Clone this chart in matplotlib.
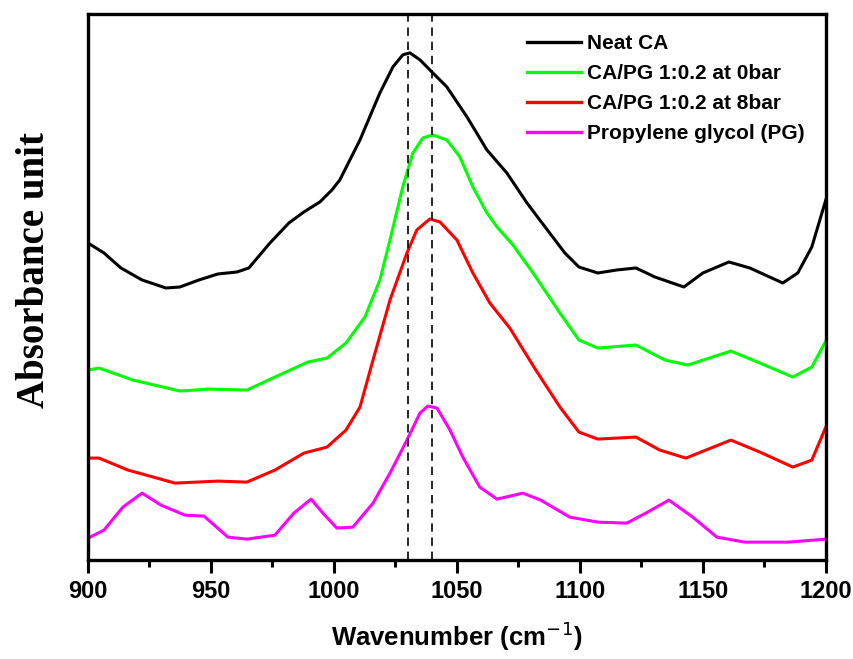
import numpy as np
import matplotlib
matplotlib.use("Agg")
from matplotlib import pyplot as plt
from matplotlib.ticker import MultipleLocator, NullLocator

# FTIR spectra (absorbance in arbitrary offset units)
wn_ca = [900.0, 906.5, 913.4, 922.0, 931.7, 937.4, 945.1, 952.8, 960.6, 965.4,
         974.0, 981.7, 987.8, 994.3, 999.2, 1002.4, 1010.6, 1018.7, 1024.0, 1028.0,
         1030.9, 1035.0, 1040.2, 1045.9, 1054.1, 1062.2, 1070.3, 1078.5, 1083.7, 1093.9,
         1099.6, 1107.3, 1115.0, 1122.8, 1130.5, 1142.3, 1150.0, 1160.6, 1169.1, 1182.5,
         1188.6, 1194.3, 1200.0]
ab_ca = [3.17, 3.07, 2.92, 2.80, 2.72, 2.73, 2.80, 2.86, 2.88, 2.92,
         3.17, 3.37, 3.48, 3.58, 3.70, 3.80, 4.20, 4.67, 4.93, 5.05,
         5.07, 5.00, 4.87, 4.73, 4.43, 4.10, 3.87, 3.57, 3.40, 3.07,
         2.93, 2.87, 2.90, 2.92, 2.83, 2.73, 2.87, 2.98, 2.92, 2.77,
         2.87, 3.13, 3.60]

wn_0bar = [900.0, 904.5, 918.3, 937.4, 949.2, 964.6, 976.0, 989.4, 997.2, 1004.9,
           1012.6, 1018.7, 1022.8, 1028.0, 1032.1, 1036.2, 1040.2, 1045.9, 1051.2, 1056.5,
           1062.2, 1066.3, 1072.8, 1082.1, 1091.9, 1099.6, 1107.3, 1122.8, 1134.6, 1143.9,
           1161.4, 1173.2, 1186.6, 1194.3, 1200.0]
ab_0bar = [1.90, 1.92, 1.80, 1.69, 1.71, 1.70, 1.83, 1.98, 2.02, 2.17,
           2.43, 2.80, 3.20, 3.73, 4.07, 4.22, 4.25, 4.20, 4.03, 3.73,
           3.47, 3.33, 3.15, 2.83, 2.47, 2.20, 2.12, 2.15, 2.00, 1.95,
           2.09, 1.97, 1.83, 1.93, 2.19]

wn_8bar = [900.0, 904.5, 916.3, 935.4, 952.8, 964.6, 976.0, 987.8, 997.2, 1004.9,
           1010.6, 1015.9, 1022.8, 1029.7, 1033.7, 1039.0, 1043.1, 1050.0, 1056.5, 1063.4,
           1071.5, 1082.1, 1091.9, 1099.6, 1107.3, 1122.8, 1132.5, 1143.1, 1161.4, 1173.2,
           1186.6, 1194.3, 1200.0]
ab_8bar = [1.02, 1.02, 0.90, 0.77, 0.79, 0.78, 0.90, 1.07, 1.13, 1.30,
           1.53, 2.00, 2.60, 3.07, 3.30, 3.41, 3.38, 3.20, 2.87, 2.57,
           2.32, 1.90, 1.53, 1.28, 1.21, 1.23, 1.10, 1.02, 1.20, 1.08,
           0.93, 1.00, 1.33]

wn_pg = [900.0, 906.5, 914.2, 922.0, 929.7, 939.4, 947.2, 956.9, 964.6, 976.0,
         983.7, 990.7, 995.5, 1001.2, 1007.7, 1015.9, 1022.8, 1029.7, 1035.0, 1038.2,
         1041.9, 1047.2, 1052.4, 1059.3, 1066.3, 1076.8, 1084.1, 1095.9, 1107.3, 1119.1,
         1126.8, 1136.2, 1145.9, 1155.7, 1167.1, 1184.6, 1200.0]
ab_pg = [0.22, 0.30, 0.53, 0.67, 0.55, 0.45, 0.44, 0.23, 0.21, 0.25,
         0.47, 0.61, 0.47, 0.32, 0.33, 0.57, 0.87, 1.20, 1.47, 1.54,
         1.52, 1.30, 1.03, 0.73, 0.61, 0.67, 0.60, 0.43, 0.38, 0.37,
         0.47, 0.60, 0.43, 0.23, 0.18, 0.18, 0.21]

labels = ["Neat CA", "CA/PG 1:0.2 at 0bar", "CA/PG 1:0.2 at 8bar", "Propylene glycol (PG)"]
colors = ["black", "#00ff00", "#ff0000", "#ff00ff"]
peak_lines = [1030, 1040]

fig = plt.figure(figsize=(8.54, 6.59), dpi=100)
ax = fig.add_axes([0.103, 0.150, 0.864, 0.829])

series = [(wn_ca, ab_ca), (wn_0bar, ab_0bar), (wn_8bar, ab_8bar), (wn_pg, ab_pg)]
for (x, y), lab, c in zip(series, labels, colors):
    ax.plot(x, y, color=c, lw=2.2, label=lab, solid_joinstyle="round")

for xv in peak_lines:
    ax.axvline(xv, color="black", lw=1.2, ls=(0, (5, 3.5)))

ax.set_xlim(900, 1200)
ax.set_ylim(0, 5.46)

ax.xaxis.set_major_locator(MultipleLocator(50))
ax.xaxis.set_minor_locator(MultipleLocator(25))
ax.yaxis.set_major_locator(NullLocator())
ax.tick_params(axis="x", which="major", direction="out", length=9, width=2.2, pad=5)
ax.tick_params(axis="x", which="minor", direction="out", length=5, width=2.2)
for s in ax.spines.values():
    s.set_linewidth(2.4)

for lbl in ax.get_xticklabels():
    lbl.set_fontfamily("Liberation Sans")
    lbl.set_fontweight("bold")
    lbl.set_fontsize(17)

ax.set_xlabel("Wavenumber (cm$^{-1}$)", fontfamily="Liberation Sans", fontweight="bold",
              fontsize=18.5, labelpad=12)
ax.set_ylabel("Absorbance unit", fontfamily="Liberation Serif", fontweight="bold",
              fontsize=28)
ax.yaxis.set_label_coords(-0.047, 0.531)

leg = ax.legend(loc="upper left", bbox_to_anchor=(0.575, 0.99), frameon=False,
                prop={"family": "Liberation Sans", "weight": "bold", "size": 15},
                handlelength=2.6, handletextpad=0.3, labelspacing=0.53, borderpad=0.2)
for h in leg.get_lines():
    h.set_linewidth(2.4)

fig.savefig("out.png", dpi=100)
